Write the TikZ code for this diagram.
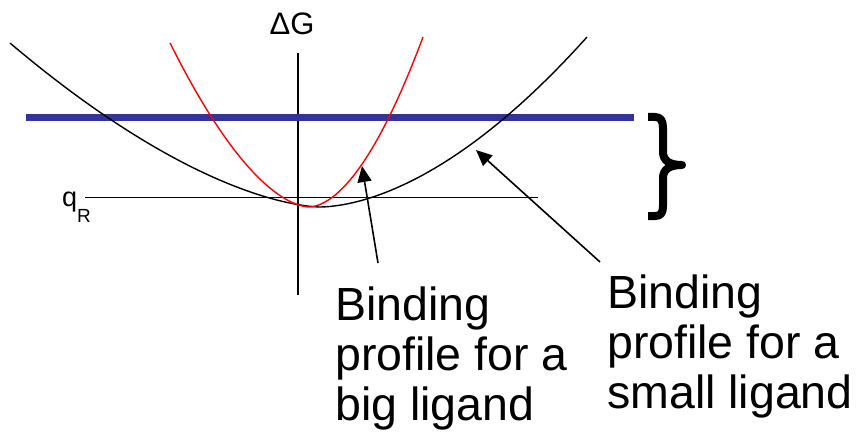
\documentclass[tikz,border=0pt]{standalone}
\usepackage{fontspec}
\setmainfont{Liberation Sans}
\usetikzlibrary{arrows.meta}
\definecolor{levelblue}{RGB}{51,51,153}
\tikzset{
  axisline/.style={line width=1.6pt},
  profile/.style={line width=1.4pt, samples=60},
  pointer/.style={line width=1.6pt, -{Triangle[length=16pt,width=14pt]}},
  caption/.style={anchor=base west, align=left, inner sep=0pt,
    font=\fontsize{46.5}{50}\selectfont}
}

\begin{document}
\begin{tikzpicture}[x=1pt,y=-1pt]
  \useasboundingbox (0,0) rectangle (863,444);

  % --- assi e livello di riferimento -------------------------------------
  \coordinate (ytop) at (298,53);
  \coordinate (ybot) at (298,295);
  \coordinate (xleft) at (85,197.5);
  \coordinate (xright) at (538,197.5);
  \draw[axisline] (ytop) -- (ybot);
  \draw[axisline] (xleft) -- (xright);
  \node[anchor=base, inner sep=0pt, font=\fontsize{31}{31}\selectfont]
    (dG) at (292,35) {ΔG};
  \node[anchor=base west, inner sep=0pt, font=\fontsize{27}{27}\selectfont]
    (qR) at (62,206) {q\raisebox{-16pt}{\fontsize{19}{19}\selectfont R}};

  % --- soglia (linea blu) e parentesi ------------------------------------
  \coordinate (lvlA) at (26,118);
  \coordinate (lvlB) at (634,118);
  \draw[levelblue, line width=7pt] (lvlA) -- (lvlB);
  \draw[line width=8pt, line join=round]
    (648,117) -- (655,117) .. controls (661,117) and (663,121) .. (663,128)
    -- (663,152) .. controls (663,161) and (670,165) .. (682,165)
    .. controls (670,165) and (663,169) .. (663,178)
    -- (663,206) .. controls (663,213) and (661,216) .. (655,216) -- (648,216);

  % --- profili di legame (nero: piccolo, rosso: grande) -------------------
  \draw[profile]
    plot[domain=3.1:0.01] ({320-100*\x},{207-26.83*pow(\x,1.6)})
    -- plot[domain=0.01:2.67] ({320+100*\x},{207-30.48*pow(\x,1.75)});
  \draw[profile, red]
    plot[domain=1.39:0.01] ({309-100*\x},{207-93.77*pow(\x,1.7)})
    -- plot[domain=0.01:1.14] ({309+100*\x},{207-134.3*pow(\x,1.8)});

  % --- etichette con frecce ------------------------------------------------
  \node[caption] (bigtxt) at (335,420) {Binding\\profile for a\\big ligand};
  \node[caption] (smalltxt) at (607,408) {Binding\\profile for a\\small ligand};
  \coordinate (bigtail) at (378,263);
  \coordinate (bigtip) at (362,166);
  \coordinate (smalltail) at (600,262);
  \coordinate (smalltip) at (476,150);
  \draw[pointer] (bigtail) -- (bigtip);
  \draw[pointer] (smalltail) -- (smalltip);

\end{tikzpicture}
\end{document}
